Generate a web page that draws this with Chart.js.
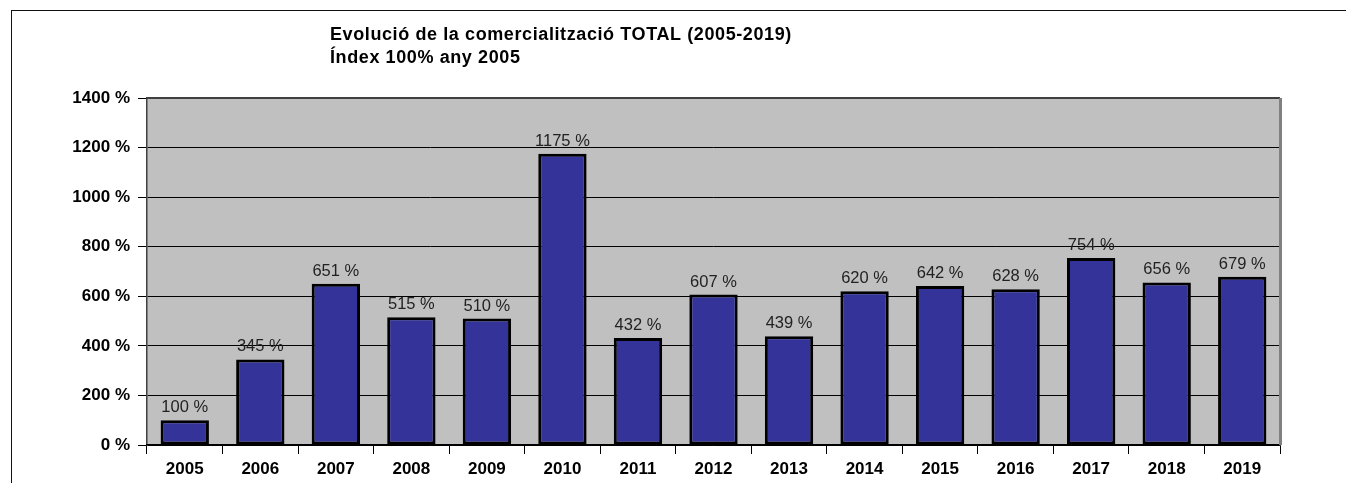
<!DOCTYPE html>
<html>
<head>
<meta charset="utf-8">
<script src="https://cdn.jsdelivr.net/npm/chart.js@4.4.1/dist/chart.umd.min.js"></script>
<style>
  html, body { margin: 0; padding: 0; background: #fff; }
  #wrap { position: relative; width: 1346px; height: 483px; }
  #frame { position: absolute; left: 11px; top: 10px; right: 0; bottom: 0;
           border-top: 1px solid #111; border-left: 1px solid #111; }
  canvas { position: absolute; left: 0; top: 0; }
</style>
</head>
<body>
<div id="wrap">
  <div id="frame"></div>
  <canvas id="graph_canvas" width="1346" height="483"></canvas>
</div>
<script>
years = ['2005', '2006', '2007', '2008', '2009', '2010', '2011', '2012', '2013', '2014', '2015', '2016', '2017', '2018', '2019'];
values = [100, 345, 651, 515, 510, 1175, 432, 607, 439, 620, 642, 628, 754, 656, 679];
titleLines = ['Evolució de la comercialització TOTAL (2005-2019)', 'Índex 100% any 2005'];

const FONT = '"Liberation Sans", Arial, sans-serif';

// plot background
const bgPlugin = {
    id: 'plotbg',
    beforeDraw(chart) {
        const a = chart.chartArea;
        const ctx = chart.ctx;
        ctx.save();
        ctx.fillStyle = '#c0c0c0';
        ctx.fillRect(a.left, a.top, a.right - a.left, a.bottom - a.top);
        ctx.restore();
    }
};

// plot frame, value labels and title
const extras = {
    id: 'extras',
    afterDatasetsDraw(chart) {
        const ctx = chart.ctx;
        const a = chart.chartArea;
        ctx.save();
        ctx.strokeStyle = '#404040';
        ctx.lineWidth = 2;
        ctx.beginPath();
        ctx.moveTo(a.left, a.top);
        ctx.lineTo(a.right, a.top);
        ctx.stroke();
        ctx.strokeStyle = '#808080';
        ctx.lineWidth = 3;
        ctx.beginPath();
        ctx.moveTo(a.right + 0.5, a.top);
        ctx.lineTo(a.right + 0.5, a.bottom);
        ctx.stroke();

        ctx.fillStyle = '#222';
        ctx.font = '16.5px ' + FONT;
        ctx.textAlign = 'center';
        ctx.textBaseline = 'alphabetic';
        const meta = chart.getDatasetMeta(0);
        meta.data.forEach(function(bar, i) {
            ctx.fillText(values[i] + ' %', bar.x, bar.y - 8);
        });

        ctx.fillStyle = '#000';
        ctx.font = 'bold 18px ' + FONT;
        ctx.textAlign = 'left';
        ctx.letterSpacing = '0.6px';
        ctx.fillText(titleLines[0], 330, 40);
        ctx.fillText(titleLines[1], 330, 63);
        ctx.restore();
    }
};

const ctx = document.getElementById('graph_canvas').getContext('2d');
chart = new Chart(ctx, {
    type: 'bar',
    data: {
        labels: years,
        datasets: [{
            data: values,
            backgroundColor: '#333399',
            borderColor: '#000000',
            borderWidth: 3,
            borderSkipped: false,
            barPercentage: 0.64,
            categoryPercentage: 1
        }]
    },
    options: {
        responsive: false,
        maintainAspectRatio: false,
        animation: false,
        layout: {
            padding: { top: 98, right: 66, left: 0, bottom: 0 }
        },
        scales: {
            y: {
                min: 0,
                max: 1400,
                afterFit: function(scale) { scale.width = 147; },
                ticks: {
                    stepSize: 200,
                    padding: 8,
                    color: '#000',
                    font: { family: FONT, size: 17, weight: 'bold' },
                    callback: function(v) { return v + ' %'; }
                },
                grid: {
                    color: '#000',
                    lineWidth: 1,
                    tickLength: 9,
                    tickColor: '#000'
                },
                border: { color: '#404040', width: 1.5 }
            },
            x: {
                afterFit: function(scale) { scale.height = 38; },
                ticks: {
                    padding: 5,
                    color: '#000',
                    font: { family: FONT, size: 17, weight: 'bold' }
                },
                grid: {
                    offset: true,
                    drawOnChartArea: false,
                    tickLength: 9,
                    tickColor: '#000'
                },
                border: { color: '#000', width: 1.5 }
            }
        },
        plugins: {
            legend: { display: false },
            tooltip: { enabled: false }
        }
    },
    plugins: [bgPlugin, extras]
});
</script>
</body>
</html>
